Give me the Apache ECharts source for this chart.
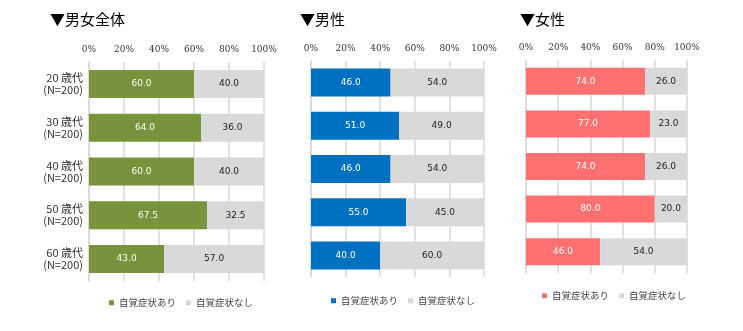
<!DOCTYPE html>
<html><head><meta charset="utf-8">
<script src="https://cdn.jsdelivr.net/npm/echarts@6/dist/echarts.min.js"></script>
<style>html,body{margin:0;padding:0;background:#fff}#c{width:743px;height:331px}</style>
</head><body><div id="c"></div>
<script>
var categories = ['20 歳代\n(N=200)', '30 歳代\n(N=200)', '40 歳代\n(N=200)', '50 歳代\n(N=200)', '60 歳代\n(N=200)'];
var panelTitles = ['▼男女全体', '▼男性', '▼女性'];
var seriesNames = ['自覚症状あり', '自覚症状なし'];
var allYes = [60.0, 64.0, 60.0, 67.5, 43.0];
var allNo = [40.0, 36.0, 40.0, 32.5, 57.0];
var maleYes = [46.0, 51.0, 46.0, 55.0, 40.0];
var maleNo = [54.0, 49.0, 54.0, 45.0, 60.0];
var femaleYes = [74.0, 77.0, 74.0, 80.0, 46.0];
var femaleNo = [26.0, 23.0, 26.0, 20.0, 54.0];
var xTicks = [0, 20, 40, 60, 80, 100];

var colors = ['#77933C', '#0070C0', '#FF7070'];
var gray = '#D9D9D9';
var FONT = '"Noto Sans CJK JP", "Noto Sans", sans-serif';
var panels = [
  {yes: allYes, no: allNo, grid: {left: 89, width: 175, top: 62, height: 219}, bw: 28, legend: {left: 104, top: 293}, title: {x: 50, y: 22}},
  {yes: maleYes, no: maleNo, grid: {left: 311, width: 173, top: 61, height: 216}, bw: 28, legend: {left: 326, top: 291}, title: {x: 300, y: 22}},
  {yes: femaleYes, no: femaleNo, grid: {left: 526, width: 161, top: 60, height: 213}, bw: 27, legend: {left: 537, top: 286}, title: {x: 520, y: 22}}
];

var option = {animation: false, grid: [], xAxis: [], yAxis: [], series: [], legend: [], graphic: []};
panels.forEach(function (p, i) {
  option.grid.push(Object.assign({containLabel: false}, p.grid));
  option.xAxis.push({
    type: 'value', gridIndex: i, position: 'top', min: 0, max: 100, interval: 20,
    axisLine: {show: false}, axisTick: {show: false},
    axisLabel: {formatter: '{value}%', fontSize: 9, color: '#333', fontFamily: 'DejaVu Serif, serif', margin: 8},
    splitLine: {show: true, lineStyle: {color: '#d9d9d9', width: 1.5}}
  });
  option.yAxis.push({
    type: 'category', gridIndex: i, data: categories, inverse: true,
    axisLine: {show: true, lineStyle: {color: '#d9d9d9', width: 1.5}}, axisTick: {show: false},
    axisLabel: {show: i === 0, fontSize: 11, color: '#333', fontFamily: FONT, lineHeight: 12, margin: 6, align: 'right'}
  });
  option.series.push({
    name: seriesNames[0], type: 'bar', stack: 's' + i, xAxisIndex: i, yAxisIndex: i, data: p.yes,
    barWidth: p.bw, itemStyle: {color: colors[i]},
    label: {show: true, position: 'inside', color: '#fff', fontSize: 9, fontFamily: 'DejaVu Sans, sans-serif', formatter: function (d) { return d.value.toFixed(1); }}
  });
  option.series.push({
    name: seriesNames[1], type: 'bar', stack: 's' + i, xAxisIndex: i, yAxisIndex: i, data: p.no,
    barWidth: p.bw, itemStyle: {color: gray},
    label: {show: true, position: 'inside', color: '#222', fontSize: 9, fontFamily: 'DejaVu Sans, sans-serif', formatter: function (d) { return d.value.toFixed(1); }}
  });
  option.legend.push({
    left: p.legend.left, top: p.legend.top, icon: 'rect', itemWidth: 5, itemHeight: 5, itemGap: 10,
    selectedMode: false,
    textStyle: {fontSize: 9.5, color: '#444', fontFamily: FONT},
    data: [
      {name: seriesNames[0], itemStyle: {color: colors[i]}},
      {name: seriesNames[1], itemStyle: {color: gray}}
    ]
  });
  option.graphic.push({
    type: 'text', left: p.title.x, top: p.title.y - 10,
    style: {text: panelTitles[i], fontSize: 15, fill: '#000', fontFamily: FONT}
  });
});
echarts.init(document.getElementById('c')).setOption(option);
</script></body></html>
